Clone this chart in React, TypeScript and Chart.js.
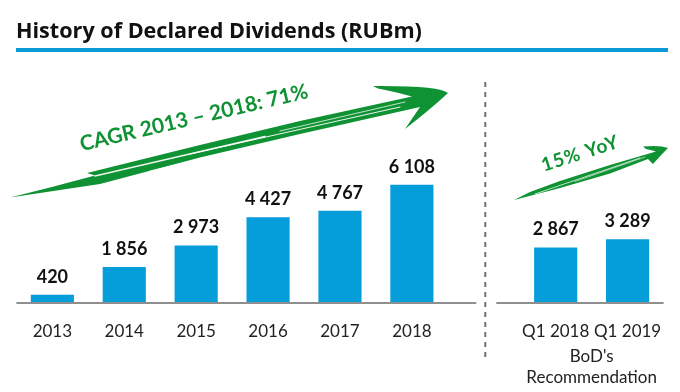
import React, { useEffect, useRef } from "react";
import { Chart, registerables } from "chart.js";

Chart.register(...registerables);

// ---- data ----
const categories = ["2013", "2014", "2015", "2016", "2017", "2018", "", "Q1 2018", "Q1 2019"];
const dividends: (number | null)[] = [420, 1856, 2973, 4427, 4767, 6108, null, 2867, 3289];
const titleText = "History of Declared Dividends (RUBm)";
const groupNote = ["BoD's", "Recommendation"];
const cagrText = "CAGR 2013 – 2018: 71%";
const yoyText = "15% YoY";

const BLUE = "#069ddb";
const GREEN = "#0e9233";

const fmt = (n: number) => String(n).replace(/\B(?=(\d{3})+(?!\d))/g, " ");

type P = [number, number];

function poly(ctx: CanvasRenderingContext2D, pts: P[]) {
  ctx.moveTo(pts[0][0], pts[0][1]);
  for (let i = 1; i < pts.length; i++) ctx.lineTo(pts[i][0], pts[i][1]);
}

function streaks(ctx: CanvasRenderingContext2D, lines: [P, P, number][]) {
  ctx.strokeStyle = "rgba(255,255,255,0.92)";
  ctx.lineCap = "round";
  for (const [a, b, w] of lines) {
    ctx.lineWidth = w;
    ctx.beginPath();
    ctx.moveTo(a[0], a[1]);
    ctx.lineTo(b[0], b[1]);
    ctx.stroke();
  }
}

function drawBigArrow(ctx: CanvasRenderingContext2D) {
  ctx.save();
  ctx.fillStyle = GREEN;
  ctx.beginPath();
  ctx.moveTo(10, 197.5);
  poly(ctx, [[10, 197.5], [100, 184], [200, 157.5], [300, 134], [420, 107], [405, 129]]);
  ctx.quadraticCurveTo(432, 108, 448, 93);
  ctx.quadraticCurveTo(440, 85.5, 373, 86);
  ctx.lineTo(378, 88.5);
  ctx.quadraticCurveTo(400, 93, 412, 96.5);
  poly(ctx, [[412, 96.5], [300, 121], [200, 145], [87, 173], [95, 175.5], [50, 187.5], [10, 197.5]]);
  ctx.closePath();
  ctx.fill();
  streaks(ctx, [
    [[95, 176], [265, 136.5], 1.4],
    [[190, 154], [400, 107], 1],
    [[280, 131], [405, 102], 0.8],
    [[150, 171], [290, 138], 0.7],
  ]);
  ctx.restore();
}

function drawSmallArrow(ctx: CanvasRenderingContext2D) {
  ctx.save();
  ctx.fillStyle = GREEN;
  ctx.beginPath();
  poly(ctx, [[514, 200], [560, 188], [610, 173.5], [648, 159], [653, 164]]);
  ctx.quadraticCurveTo(660, 156, 668, 148);
  ctx.quadraticCurveTo(660, 145, 643, 146.5);
  ctx.lineTo(646, 149);
  ctx.quadraticCurveTo(652, 150, 656, 151.5);
  poly(ctx, [[656, 151.5], [610, 165], [560, 181], [530, 192], [514, 200]]);
  ctx.closePath();
  ctx.fill();
  streaks(ctx, [
    [[535, 194], [640, 158], 0.8],
    [[575, 181.5], [645, 157], 0.6],
  ]);
  ctx.restore();
}

function rotatedText(
  ctx: CanvasRenderingContext2D, text: string, x: number, y: number,
  angleDeg: number, font: string, spacing: string
) {
  ctx.save();
  ctx.translate(x, y);
  ctx.rotate((angleDeg * Math.PI) / 180);
  ctx.font = font;
  (ctx as any).letterSpacing = spacing;
  ctx.fillStyle = GREEN;
  ctx.textAlign = "center";
  ctx.textBaseline = "alphabetic";
  ctx.fillText(text, 0, 0);
  ctx.restore();
}

const decor = {
  id: "decor",
  beforeDraw(chart: any) {
    const ctx: CanvasRenderingContext2D = chart.ctx;
    ctx.save();
    ctx.fillStyle = "#ffffff";
    ctx.fillRect(0, 0, chart.width, chart.height);
    ctx.font = "bold 21.6px 'Open Sans'";
    ctx.fillStyle = "#111111";
    ctx.textAlign = "left";
    ctx.textBaseline = "alphabetic";
    ctx.fillText(titleText, 16, 38);
    ctx.fillStyle = "#0a9ad7";
    ctx.fillRect(16, 48, 652, 4);
    ctx.restore();
  },
  afterDatasetsDraw(chart: any) {
    const ctx: CanvasRenderingContext2D = chart.ctx;
    const area = chart.chartArea;
    const x = chart.scales.x;
    const y = chart.scales.y;
    const base = y.getPixelForValue(0);
    const sep = x.getPixelForValue(6) + 1.5;
    ctx.save();
    // baseline segments
    ctx.strokeStyle = "#8f8f8f";
    ctx.lineWidth = 2;
    ctx.beginPath();
    ctx.moveTo(area.left, base);
    ctx.lineTo(sep - 9, base);
    ctx.moveTo(sep + 11, base);
    ctx.lineTo(area.right, base);
    ctx.stroke();
    // dashed separator
    ctx.strokeStyle = "#6e7378";
    ctx.setLineDash([5, 5]);
    ctx.beginPath();
    ctx.moveTo(sep, 82);
    ctx.lineTo(sep, 360);
    ctx.stroke();
    ctx.setLineDash([]);
    // value labels
    const meta = chart.getDatasetMeta(0);
    ctx.font = "bold 18px Lato";
    ctx.fillStyle = "#111111";
    ctx.textAlign = "center";
    ctx.textBaseline = "alphabetic";
    meta.data.forEach((bar: any, i: number) => {
      const v = dividends[i];
      if (v == null) return;
      ctx.fillText(fmt(v), bar.x, bar.y - 12);
    });
    // group note
    const cx = (x.getPixelForValue(7) + x.getPixelForValue(8)) / 2;
    ctx.font = "17px Lato";
    ctx.fillStyle = "#222222";
    ctx.fillText(groupNote[0], cx, 362);
    ctx.fillText(groupNote[1], cx, 383);
    // arrows
    drawBigArrow(ctx);
    drawSmallArrow(ctx);
    rotatedText(ctx, cagrText, 195.5, 124.5, -13.2, "bold 21px Lato", "0px");
    rotatedText(ctx, yoyText, 582, 159.5, -17.8, "bold 19px Lato", "1px");
    ctx.restore();
  },
};

export default function App() {
  const ref = useRef<HTMLCanvasElement | null>(null);
  useEffect(() => {
    document.body.style.margin = "0";
    const canvas = ref.current!;
    const chart = new Chart(canvas, {
      type: "bar",
      data: {
        labels: categories,
        datasets: [
          {
            data: dividends,
            backgroundColor: BLUE,
            borderWidth: 0,
            barPercentage: 0.6,
            categoryPercentage: 1,
          },
        ],
      },
      options: {
        responsive: false,
        animation: false,
        devicePixelRatio: 1,
        layout: { padding: { left: 16.4, right: 13.8, top: 62.8, bottom: 32.6 } },
        plugins: {
          legend: { display: false },
          tooltip: { enabled: false },
          title: { display: false },
        },
        scales: {
          x: {
            grid: { display: false, drawTicks: false },
            border: { display: false },
            ticks: {
              color: "#222222",
              font: { family: "Lato", size: 17 },
              padding: 18,
              maxRotation: 0,
              autoSkip: false,
            },
          },
          y: { display: false, min: 0, max: 12400 },
        },
      },
      plugins: [decor],
    } as any);
    return () => chart.destroy();
  }, []);
  return (
    <div style={{ position: "absolute", left: 0, top: 0, width: 680, height: 392 }}>
      <canvas ref={ref} width={680} height={392} style={{ width: 680, height: 392, display: "block" }} />
    </div>
  );
}
